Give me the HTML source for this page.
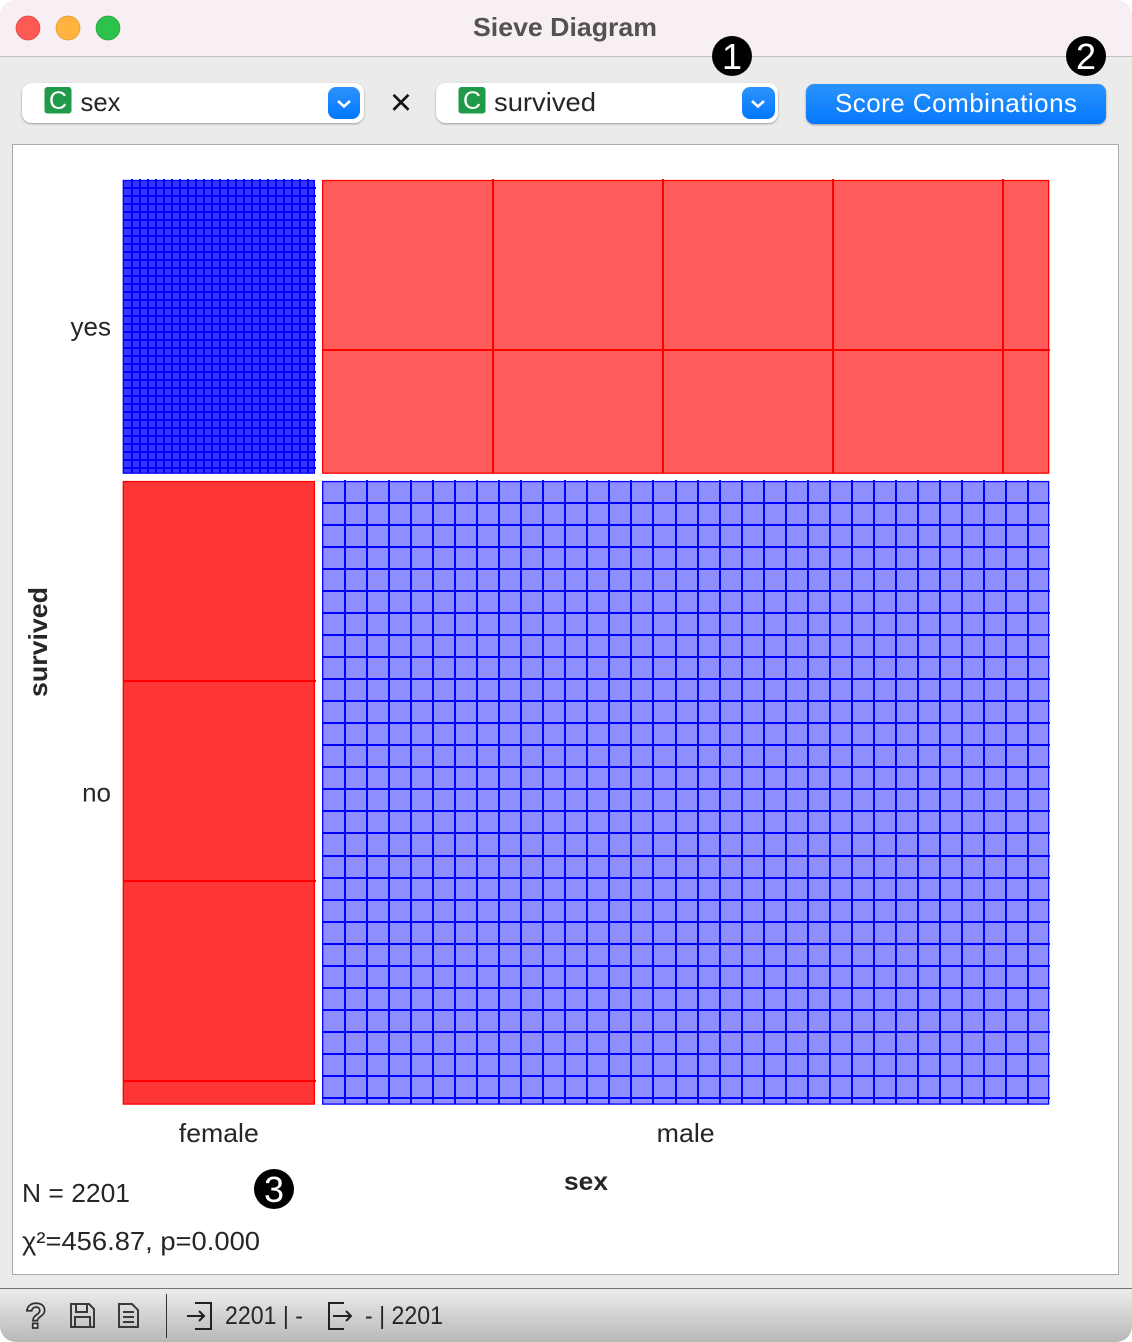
<!DOCTYPE html>
<html lang="en">
<head>
<meta charset="utf-8">
<title>Sieve Diagram</title>
<style>
html,body{margin:0;padding:0;background:#fff;width:1132px;height:1342px;overflow:hidden}
svg{display:block}
text{font-family:"Liberation Sans",sans-serif;fill:#262626}
</style>
</head>
<body>
<svg id="root" xmlns="http://www.w3.org/2000/svg" width="1132" height="1342" viewBox="0 0 1132 1342">
<defs>
<linearGradient id="gBtn" x1="0" y1="0" x2="0" y2="1"><stop offset="0" stop-color="#2c93fc"/><stop offset="1" stop-color="#0277fe"/></linearGradient>
<linearGradient id="gBar" x1="0" y1="0" x2="0" y2="1"><stop offset="0" stop-color="#ededed"/><stop offset="1" stop-color="#b8b8b8"/></linearGradient>
<filter id="sh" x="-5%" y="-20%" width="110%" height="140%"><feDropShadow dx="0" dy="1" stdDeviation="1" flood-color="#000" flood-opacity=".35"/></filter>
<clipPath id="win"><rect x="0" y="0" width="1132" height="1342" rx="16" ry="16"/></clipPath>
</defs>
<g clip-path="url(#win)">
<rect width="1132" height="1342" fill="#ebebeb"/>
<rect width="1132" height="56" fill="#f8eff5"/>
<rect y="56" width="1132" height="1" fill="#c2bfc1"/>
<rect y="1288" width="1132" height="54" fill="url(#gBar)"/>
<rect y="1288" width="1132" height="1" fill="#737373"/>
</g>
<circle cx="28" cy="28" r="12" fill="#fe5a54" stroke="#e0443e" stroke-width=".7"/>
<circle cx="68" cy="28" r="12" fill="#ffb23e" stroke="#dd9a2c" stroke-width=".7"/>
<circle cx="108" cy="28" r="12" fill="#2cc24b" stroke="#22a53c" stroke-width=".7"/>
<text x="565" y="36" text-anchor="middle" font-size="26" font-weight="700" style="fill:#525252" textLength="184" lengthAdjust="spacingAndGlyphs">Sieve Diagram</text>

<g>
<rect x="22" y="83" width="342" height="40" rx="10" fill="#fff" filter="url(#sh)"/>
<rect x="44.500" y="87" width="27" height="26.500" rx="3" fill="#1f9a48"/>
<text x="58" y="109" text-anchor="middle" font-size="25" style="fill:#fff">C</text>
<text x="80.500" y="111" font-size="26" textLength="40" lengthAdjust="spacingAndGlyphs">sex</text>
<rect x="328" y="87" width="32" height="32" rx="8" fill="url(#gBtn)"/>
<path d="M338 101l6 5.500 6-5.500" fill="none" stroke="#fff" stroke-width="2.600"/>
</g>
<text x="401" y="115" text-anchor="middle" font-size="38" style="fill:#111">×</text>
<g>
<rect x="436" y="83" width="342" height="40" rx="10" fill="#fff" filter="url(#sh)"/>
<rect x="458.500" y="87" width="27" height="26.500" rx="3" fill="#1f9a48"/>
<text x="472" y="109" text-anchor="middle" font-size="25" style="fill:#fff">C</text>
<text x="494" y="111" font-size="26" textLength="102" lengthAdjust="spacingAndGlyphs">survived</text>
<rect x="742" y="87" width="33" height="32" rx="8" fill="url(#gBtn)"/>
<path d="M752 101l6 5.500 6-5.500" fill="none" stroke="#fff" stroke-width="2.600"/>
</g>
<g>
<rect x="806" y="84" width="300" height="40" rx="8" fill="url(#gBtn)" filter="url(#sh)"/>
<text x="835" y="112" font-size="26" style="fill:#fff" textLength="242" lengthAdjust="spacing">Score Combinations</text>
</g>

<rect x="12.500" y="144.500" width="1106" height="1130" fill="#fff" stroke="#ababab" stroke-width="1"/>
<g id="chart"></g>

<text x="586" y="1190" text-anchor="middle" font-size="25" font-weight="700" textLength="44" lengthAdjust="spacingAndGlyphs">sex</text>
<text transform="translate(47 642) rotate(-90)" text-anchor="middle" font-size="26" font-weight="700" textLength="110" lengthAdjust="spacingAndGlyphs">survived</text>
<text x="22" y="1202" font-size="26" textLength="108" lengthAdjust="spacingAndGlyphs">N = 2201</text>
<text x="22" y="1250" font-size="26" textLength="238" lengthAdjust="spacingAndGlyphs">χ²=456.87, p=0.000</text>

<g><circle cx="732" cy="56" r="20" fill="#000"/><text x="732" y="69" text-anchor="middle" font-size="36" style="fill:#fff">1</text></g>
<g><circle cx="1086" cy="56" r="20" fill="#000"/><text x="1086" y="69" text-anchor="middle" font-size="36" style="fill:#fff">2</text></g>
<g><circle cx="274" cy="1189" r="20" fill="#000"/><text x="274" y="1202" text-anchor="middle" font-size="36" style="fill:#fff">3</text></g>

<g><text x="36" y="1328" text-anchor="middle" font-size="35" font-weight="700" style="fill:#d8d8d8;stroke:#2e2e2e;stroke-width:1.700">?</text></g>
<g fill="none" stroke="#3a3a3a" stroke-width="2"><path d="M71 1304h18l5 5v18h-23z"/><path d="M76 1304v8h11v-8M75 1327v-10h15v10"/></g>
<g fill="none" stroke="#3a3a3a" stroke-width="2"><path d="M119 1304h13l6 6v17h-19z"/><path d="M123 1312h11M123 1317h11M123 1322h11"/></g>
<rect x="166" y="1294" width="1" height="44" fill="#333"/>
<g fill="none" stroke="#222" stroke-width="2"><path d="M195 1303h16v26h-16M187 1316h17M199 1311l5 5-5 5"/></g>
<text x="225" y="1324" font-size="25" textLength="78" lengthAdjust="spacingAndGlyphs">2201 | -</text>
<g fill="none" stroke="#222" stroke-width="2"><path d="M344 1303h-15v26h15M333 1316h17M346 1311l5 5-5 5"/></g>
<text x="365" y="1324" font-size="25" textLength="78" lengthAdjust="spacingAndGlyphs">- | 2201</text>
</svg>
<script>
const sexCategories = ['female', 'male'];
const survivedCategories = ['yes', 'no'];
const sexTotals = [470, 1731];
const survivedTotals = [711, 1490];
const observedCounts = [[344, 367], [126, 1364]];
const sieveLinesPer100 = [[12.5, 0.5882], [0.5, 4.54]];
const xTickWidths = { female: 80, male: 58 };

const NS = 'http://www.w3.org/2000/svg';
const chart = document.getElementById('chart');
const grandTotal = sexTotals.reduce((a, b) => a + b, 0);
const plot = { left: 122.8, top: 180, width: 933.7, height: 932, gapX: 7.35, gapY: 8 };
const xPos = cum => plot.left + plot.width * cum / grandTotal;
const xLen = count => plot.width * count / grandTotal - plot.gapX;
const yPos = cum => plot.top + plot.height * cum / grandTotal;
const yLen = count => plot.height * count / grandTotal - plot.gapY;

function make(tag, attrs) {
  const el = document.createElementNS(NS, tag);
  for (const k in attrs) el.setAttribute(k, attrs[k]);
  return el;
}

let cumY = 0;
survivedCategories.forEach((yCat, r) => {
  let cumX = 0;
  const y = yPos(cumY), h = yLen(survivedTotals[r]);
  sexCategories.forEach((xCat, c) => {
    const x = xPos(cumX), w = xLen(sexTotals[c]);
    const expected = sexTotals[c] * survivedTotals[r] / grandTotal;
    const residual = (observedCounts[r][c] - expected) / Math.sqrt(expected);
    const alpha = Math.min(0.79, Math.abs(residual) / 12.7);
    const hue = residual > 0 ? '#0000ff' : '#ff0000';
    const group = make('g', {});
    
    
    const rect = make('rect', { x: x + 0.5, y: y + 0.5, width: w - 1, height: h - 0.4, fill: hue, 'fill-opacity': alpha.toFixed(3), stroke: hue, 'stroke-width': 1.3 });
    
    
    group.appendChild(rect);
    const step = 100 / sieveLinesPer100[r][c];
    for (let i = 1; i * step < w - 1; i++) {
      const lx = Math.round(x + i * step + 0.9);
      const line = make('line', { x1: lx, x2: lx, y1: Math.round(y) - 1, y2: y + h, stroke: hue, 'stroke-width': 2, 'shape-rendering': 'crispEdges' });
      
      
      group.appendChild(line);
    }
    for (let i = 1; i * step < h - 1; i++) {
      const ly = Math.round(y + i * step);
      const line = make('line', { x1: x, x2: x + w + 1, y1: ly, y2: ly, stroke: hue, 'stroke-width': 2, 'shape-rendering': 'crispEdges' });
      
      
      group.appendChild(line);
    }
    chart.appendChild(group);
    cumX += sexTotals[c];
  });
  const label = make('text', { x: 111, y: y + h / 2 + 9, 'text-anchor': 'end', 'font-size': 26 });
  label.textContent = yCat;
  
  
  chart.appendChild(label);
  cumY += survivedTotals[r];
});
let cumLabel = 0;
sexCategories.forEach((xCat, c) => {
  const label = make('text', { x: xPos(cumLabel) + xLen(sexTotals[c]) / 2, y: 1142, 'text-anchor': 'middle', 'font-size': 26, textLength: xTickWidths[xCat], lengthAdjust: 'spacingAndGlyphs' });
  label.textContent = xCat;
  
  
  chart.appendChild(label);
  cumLabel += sexTotals[c];
});
</script>
</body>
</html>
